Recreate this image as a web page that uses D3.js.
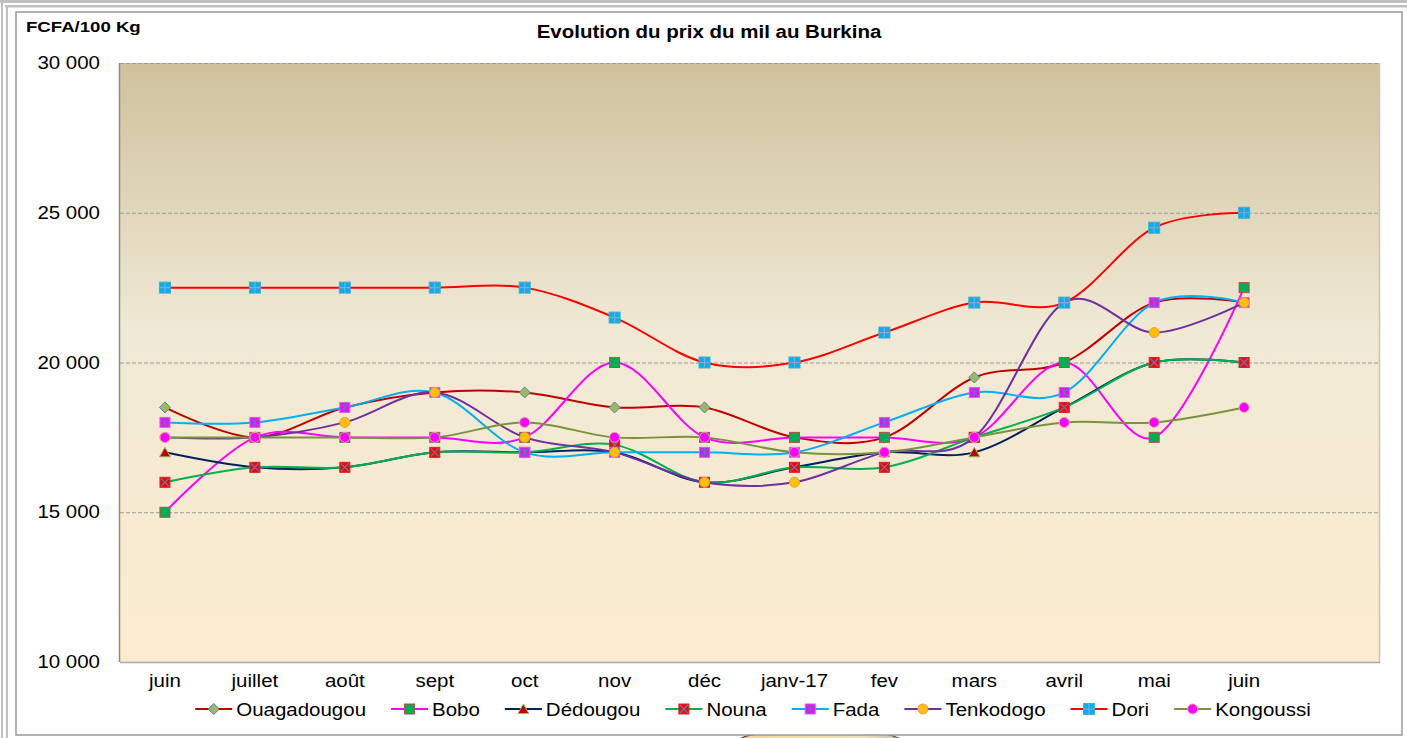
<!DOCTYPE html>
<html>
<head>
<meta charset="utf-8">
<script src="https://cdn.jsdelivr.net/npm/d3@7"></script>
<style>
    body { margin: 0; background: #fff; }
    svg { display: block; font-family: Arial, 'Liberation Sans', sans-serif; }
    .axis path, .axis line { stroke: none; }
    .axis text { fill: #000; }
    .grid line { stroke: #9a9a9a; stroke-dasharray: 4,2; stroke-width: 1.2; }
    .grid path { stroke: none; }
</style>
</head>
<body>
<svg id="chart"></svg>
<script>
// months on the x axis (the chart keeps one empty slot after the last "juin")
const months = ['juin', 'juillet', 'août', 'sept', 'oct', 'nov', 'déc', 'janv-17', 'fev', 'mars', 'avril', 'mai', 'juin'];
const yTicks = [10000, 15000, 20000, 25000, 30000];

// prix du mil, FCFA / 100 kg
const ouagadougou = [18500, 17500, 18500, 19000, 19000, 18500, 18500, 17500, 17500, 19500, 20000, 22000, 22000];
const bobo        = [15000, 17500, 17500, 17500, 17500, 20000, 17500, 17500, 17500, 17500, 20000, 17500, 22500];
const dedougou    = [17000, 16500, 16500, 17000, 17000, 17000, 16000, 16500, 17000, 17000, 18500, 20000, 20000];
const nouna       = [16000, 16500, 16500, 17000, 17000, 17250, 16000, 16500, 16500, 17500, 18500, 20000, 20000];
const fada        = [18000, 18000, 18500, 19000, 17000, 17000, 17000, 17000, 18000, 19000, 19000, 22000, 22000];
const tenkodogo   = [17500, 17500, 18000, 19000, 17500, 17000, 16000, 16000, 17000, 17500, 22000, 21000, 22000];
const dori        = [22500, 22500, 22500, 22500, 22500, 21500, 20000, 20000, 21000, 22000, 22000, 24500, 25000];
const kongoussi   = [17500, 17500, 17500, 17500, 18000, 17500, 17500, 17000, 17000, 17500, 18000, 18000, 18500];

const series = [
    { name: 'Ouagadougou', values: ouagadougou, color: '#c00000', marker: 'diamond' },
    { name: 'Bobo',        values: bobo,        color: '#ff00ff', marker: 'square' },
    { name: 'Dédougou',    values: dedougou,    color: '#002060', marker: 'triangle' },
    { name: 'Nouna',       values: nouna,       color: '#00b050', marker: 'xsquare' },
    { name: 'Fada',        values: fada,        color: '#00b0f0', marker: 'star' },
    { name: 'Tenkodogo',   values: tenkodogo,   color: '#7030a0', marker: 'circleOrange' },
    { name: 'Dori',        values: dori,        color: '#ff0000', marker: 'plus' },
    { name: 'Kongoussi',   values: kongoussi,   color: '#77933c', marker: 'circlePink' }
];

// text in the picture is a bit wider than plain Arial
function stretchText(sel, k) {
    sel.each(function () {
        const w = this.getComputedTextLength();
        d3.select(this).attr('textLength', w * k).attr('lengthAdjust', 'spacingAndGlyphs');
    });
}

// draw one marker centred on (0,0) inside g
function drawMarker(g, type) {
    if (type === 'diamond') {
        g.append('path').attr('d', 'M0,-5.5L5.5,0L0,5.5L-5.5,0Z')
            .attr('fill', '#9bbb59').attr('stroke', '#4f81bd').attr('stroke-width', 1);
    } else if (type === 'square') {
        g.append('rect').attr('x', -5).attr('y', -5).attr('width', 10).attr('height', 10)
            .attr('fill', '#00b050').attr('stroke', '#b0504d').attr('stroke-width', 1);
    } else if (type === 'triangle') {
        g.append('path').attr('d', 'M0,-5L5.5,4.5L-5.5,4.5Z')
            .attr('fill', '#c00000').attr('stroke', '#9bbb59').attr('stroke-width', 1);
    } else if (type === 'xsquare') {
        g.append('rect').attr('x', -5).attr('y', -5).attr('width', 10).attr('height', 10)
            .attr('fill', '#ff0000').attr('stroke', '#e02020').attr('stroke-width', 1);
        g.append('path').attr('d', 'M-4,-4L4,4M4,-4L-4,4')
            .attr('stroke', '#4f81bd').attr('stroke-width', 1.2);
    } else if (type === 'star') {
        g.append('rect').attr('x', -5).attr('y', -5).attr('width', 10).attr('height', 10)
            .attr('fill', '#ff00ff').attr('stroke', '#cc66dd').attr('stroke-width', 1);
        g.append('path').attr('d', 'M-4,-4L4,4M4,-4L-4,4M0,-4.5L0,4.5')
            .attr('stroke', '#4f81bd').attr('stroke-width', 1);
    } else if (type === 'circleOrange') {
        g.append('circle').attr('r', 5)
            .attr('fill', '#ffc000').attr('stroke', '#f79646').attr('stroke-width', 1);
    } else if (type === 'plus') {
        g.append('rect').attr('x', -5.5).attr('y', -5.5).attr('width', 11).attr('height', 11)
            .attr('fill', '#00b0f0').attr('stroke', '#4bacc6').attr('stroke-width', 1);
        g.append('path').attr('d', 'M-5,0L5,0M0,-5L0,5')
            .attr('stroke', '#8ea8c8').attr('stroke-width', 1.2);
    } else if (type === 'circlePink') {
        g.append('circle').attr('r', 5)
            .attr('fill', '#ff00ff').attr('stroke', '#e0a0a8').attr('stroke-width', 1);
    }
}

class LineChart {

    constructor(_config) {
        this.config = {
            parentElement: _config.parentElement,
            containerWidth: 1407,
            containerHeight: 738,
            plot: { left: 120, top: 63, right: 1379, bottom: 662 },
            stretch: 1.17
        };
        this.initVis();
    }

    initVis() {
        let vis = this;
        const p = vis.config.plot;

        vis.svg = d3.select(vis.config.parentElement)
            .attr('width', vis.config.containerWidth)
            .attr('height', vis.config.containerHeight);

        // 14 slots: 13 months + empty slot at the right
        vis.xScale = d3.scaleBand()
            .domain(d3.range(months.length + 1))
            .range([p.left, p.right]);

        vis.yScale = d3.scaleLinear()
            .domain([d3.min(yTicks), d3.max(yTicks)])
            .range([p.bottom, p.top]);

        vis.xPos = i => vis.xScale(i) + vis.xScale.bandwidth() / 2;

        vis.drawFrame();
        vis.renderVis();
        vis.drawLegend();
    }

    drawFrame() {
        let vis = this;
        const p = vis.config.plot;
        const W = vis.config.containerWidth, H = vis.config.containerHeight;

        // page borders around the chart
        vis.svg.append('rect').attr('x', 0).attr('y', 0).attr('width', W).attr('height', 3).attr('fill', '#c0c0c0');
        vis.svg.append('rect').attr('x', 5).attr('y', 5).attr('width', W - 5).attr('height', 2.5).attr('fill', '#c0c0c0');
        vis.svg.append('rect').attr('x', 1).attr('y', 0).attr('width', 2).attr('height', H).attr('fill', '#c0c0c0');
        vis.svg.append('rect').attr('x', 6).attr('y', 5).attr('width', 2).attr('height', H).attr('fill', '#c0c0c0');

        // bit of the next picture peeking in below
        const peek = vis.svg.append('defs').append('linearGradient')
            .attr('id', 'peek').attr('x1', 0).attr('x2', 1).attr('y1', 0).attr('y2', 0);
        peek.append('stop').attr('offset', '0%').attr('stop-color', '#f6d98a');
        peek.append('stop').attr('offset', '75%').attr('stop-color', '#f3e2b0');
        peek.append('stop').attr('offset', '100%').attr('stop-color', '#bdbdbd');
        vis.svg.append('path')
            .attr('d', 'M738,740Q748,733 775,733L868,733Q892,733 902,740Z')
            .attr('fill', 'url(#peek)').attr('stroke', '#444').attr('stroke-width', 1.2);

        // chart area frame
        vis.svg.append('rect')
            .attr('x', 16).attr('y', 12).attr('width', 1386).attr('height', 723)
            .attr('fill', '#fff').attr('stroke', '#9a9a9a').attr('stroke-width', 1.5);

        // plot background gradient
        const grad = vis.svg.append('defs').append('linearGradient')
            .attr('id', 'plotbg').attr('x1', 0).attr('x2', 0).attr('y1', 0).attr('y2', 1);
        grad.append('stop').attr('offset', '0%').attr('stop-color', '#cfc19c');
        grad.append('stop').attr('offset', '45%').attr('stop-color', '#f0e9d5');
        grad.append('stop').attr('offset', '100%').attr('stop-color', '#fcecce');

        vis.svg.append('rect')
            .attr('x', p.left).attr('y', p.top)
            .attr('width', p.right - p.left).attr('height', p.bottom - p.top)
            .attr('fill', 'url(#plotbg)');

        // shadow on right and bottom, axis line on left
        vis.svg.append('line').attr('x1', p.right + 0.5).attr('x2', p.right + 0.5)
            .attr('y1', p.top).attr('y2', p.bottom + 1).attr('stroke', '#c4c4c4').attr('stroke-width', 1.5);
        vis.svg.append('line').attr('x1', p.left).attr('x2', p.right + 1)
            .attr('y1', p.bottom + 0.5).attr('y2', p.bottom + 0.5).attr('stroke', '#aaaaaa').attr('stroke-width', 1.5);
        vis.svg.append('line').attr('x1', p.left - 0.5).attr('x2', p.left - 0.5)
            .attr('y1', p.top).attr('y2', p.bottom).attr('stroke', '#8a8a8a').attr('stroke-width', 1.5);

        // gridlines
        vis.svg.append('g')
            .attr('class', 'grid')
            .attr('transform', `translate(${p.left},0)`)
            .call(d3.axisLeft(vis.yScale)
                .tickValues(yTicks.filter(d => d > d3.min(yTicks)))
                .tickSize(-(p.right - p.left))
                .tickFormat(''));

        // y axis labels
        const fmt = d => d3.format(',')(d).replace(/,/g, ' ');
        vis.yAxisG = vis.svg.append('g')
            .attr('class', 'axis y-axis')
            .attr('transform', `translate(${p.left},0)`)
            .call(d3.axisLeft(vis.yScale).tickValues(yTicks).tickSize(0).tickPadding(20).tickFormat(fmt));
        vis.yAxisG.selectAll('text').style('font-size', '17.5px');
        stretchText(vis.yAxisG.selectAll('text'), vis.config.stretch);

        // x axis labels
        vis.xAxisG = vis.svg.append('g')
            .attr('class', 'axis x-axis')
            .attr('transform', `translate(0,${p.bottom})`)
            .call(d3.axisBottom(vis.xScale).tickSize(0).tickPadding(13).tickFormat(i => months[i] || ''));
        vis.xAxisG.selectAll('text').style('font-size', '17.5px');
        stretchText(vis.xAxisG.selectAll('text'), vis.config.stretch);

        // titles
        const unit = vis.svg.append('text')
            .attr('x', 26).attr('y', 31.5)
            .style('font-size', '15.5px').style('font-weight', 'bold')
            .text('FCFA/100 Kg');
        stretchText(unit, 1.2);

        const title = vis.svg.append('text')
            .attr('x', 709).attr('y', 38)
            .attr('text-anchor', 'middle')
            .style('font-size', '17.5px').style('font-weight', 'bold')
            .text('Evolution du prix du mil au Burkina');
        stretchText(title, vis.config.stretch);
    }

    renderVis() {
        let vis = this;

        const line = d3.line()
            .x((d, i) => vis.xPos(i))
            .y(d => vis.yScale(d))
            .curve(d3.curveCatmullRom.alpha(0));

        const groups = vis.svg.selectAll('.series')
            .data(series)
            .join('g')
            .attr('class', 'series');

        groups.append('path')
            .attr('fill', 'none')
            .attr('stroke', d => d.color)
            .attr('stroke-width', 2)
            .attr('d', d => line(d.values));

        groups.each(function (s) {
            d3.select(this).selectAll('.marker')
                .data(s.values)
                .join('g')
                .attr('class', 'marker')
                .attr('transform', (d, i) => `translate(${vis.xPos(i)},${vis.yScale(d)})`)
                .each(function () { drawMarker(d3.select(this), s.marker); });
        });
    }

    drawLegend() {
        let vis = this;
        const lineLen = 37, textGap = 4, itemGap = 25, cy = 709, center = 753;

        const legend = vis.svg.append('g').attr('class', 'legend');
        const items = legend.selectAll('.legend-item')
            .data(series)
            .join('g')
            .attr('class', 'legend-item');

        items.append('line')
            .attr('x1', 0).attr('x2', lineLen)
            .attr('y1', cy).attr('y2', cy)
            .attr('stroke', d => d.color).attr('stroke-width', 2);

        items.append('g')
            .attr('transform', `translate(${lineLen / 2},${cy})`)
            .each(function (d) { drawMarker(d3.select(this), d.marker); });

        const labels = items.append('text')
            .attr('x', lineLen + textGap).attr('y', cy + 6.5)
            .style('font-size', '17.5px')
            .text(d => d.name);
        stretchText(labels, vis.config.stretch);

        // lay the items out one after the other and centre the row
        let x = 0;
        const offsets = [];
        labels.each(function () {
            offsets.push(x);
            x += lineLen + textGap + (+d3.select(this).attr('textLength')) + itemGap;
        });
        const total = x - itemGap;
        const start = center - total / 2;
        items.attr('transform', (d, i) => `translate(${start + offsets[i]},0)`);
    }
}

new LineChart({ parentElement: '#chart' });
</script>
</body>
</html>
